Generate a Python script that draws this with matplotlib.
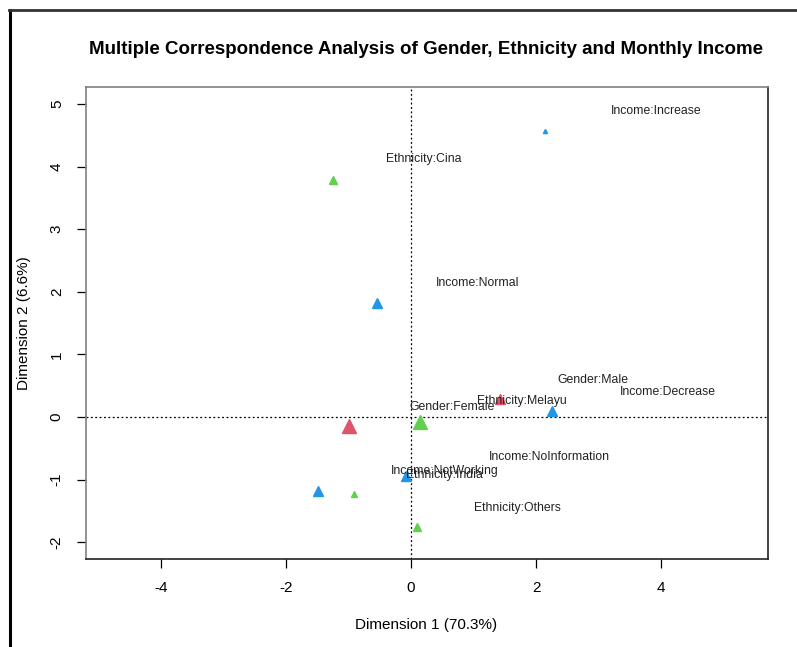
import matplotlib
matplotlib.use("Agg")
import matplotlib.pyplot as plt
from matplotlib.lines import Line2D

plt.rcParams['font.family'] = ['Liberation Sans', 'DejaVu Sans']

# category coordinates on the first two MCA dimensions
categories = ['Income:Increase', 'Ethnicity:Cina', 'Income:Normal', 'Gender:Male',
              'Income:Decrease', 'Ethnicity:Melayu', 'Gender:Female',
              'Income:NoInformation', 'Income:NotWorking', 'Ethnicity:India',
              'Ethnicity:Others']
dim1 = [2.14, -1.25, -0.54, 1.42, 2.26, 0.14, -0.99, -0.08, -1.49, -0.91, 0.10]
dim2 = [4.57, 3.79, 1.82, 0.29, 0.10, -0.08, -0.14, -0.94, -1.18, -1.23, -1.76]
variable = ['Income', 'Ethnicity', 'Income', 'Gender', 'Income', 'Ethnicity',
            'Gender', 'Income', 'Income', 'Ethnicity', 'Ethnicity']
# relative category weight (marker size)
weight = [3.0, 6.0, 7.2, 6.5, 6.5, 9.5, 10.0, 6.5, 6.5, 4.5, 5.5]
# where the labels were drawn
label_x = [3.92, 0.21, 1.07, 2.91, 4.11, 1.78, 0.66, 2.21, 0.54, 0.53, 1.71]
label_y = [4.89, 4.12, 2.14, 0.59, 0.40, 0.26, 0.16, -0.64, -0.86, -0.93, -1.45]

var_colors = {'Gender': '#DF536B', 'Ethnicity': '#61D04F', 'Income': '#2297E6'}

fig = plt.figure(figsize=(7.97, 6.47), dpi=100)
ax = fig.add_axes([0.108, 0.136, 0.8555, 0.7295])

ax.axhline(0, color='black', linestyle=(0, (1.5, 2)), lw=0.9, zorder=1)
ax.axvline(0, color='black', linestyle=(0, (1.5, 2)), lw=0.9, zorder=1)

for i, name in enumerate(categories):
    ax.plot(dim1[i], dim2[i], marker='^', markersize=weight[i],
            color=var_colors[variable[i]], linestyle='none', zorder=3)
    ax.text(label_x[i], label_y[i], name, fontsize=8.8, color='#222222',
            ha='center', va='center', zorder=4)

ax.set_xlim(-5.2, 5.71)
ax.set_ylim(-2.27, 5.27)
ax.set_xticks([-4, -2, 0, 2, 4])
ax.set_yticks([-2, -1, 0, 1, 2, 3, 4, 5])
ax.set_xticklabels(['-4', '-2', '0', '2', '4'])
ax.set_yticklabels(['-2', '-1', '0', '1', '2', '3', '4', '5'],
                   rotation=90, va='center')
ax.tick_params(direction='out', length=6.5, width=0.9, labelsize=11,
               color='black')
ax.tick_params(axis='x', pad=9)
ax.tick_params(axis='y', pad=9.5)

for side in ['left', 'top']:
    ax.spines[side].set_color('#808080')
for side in ['right', 'bottom']:
    ax.spines[side].set_color('#222222')
for s in ax.spines.values():
    s.set_linewidth(1.2)

fig.text(0.535, 0.034, 'Dimension 1 (70.3%)', fontsize=11, ha='center', va='center')
fig.text(0.03, 0.5, 'Dimension 2 (6.6%)', fontsize=11, ha='center', va='center',
         rotation=90)
fig.text(0.535, 0.924,
         'Multiple Correspondence Analysis of Gender, Ethnicity and Monthly Income',
         fontsize=13.5, fontweight='bold', ha='center', va='center')

# window frame from the screenshot
fig.add_artist(Line2D([0.0125, 0.0125], [0.0, 0.984], color='black', lw=2.2,
                      transform=fig.transFigure))
fig.add_artist(Line2D([0.0115, 1.0], [0.984, 0.984], color='#333333', lw=2.0,
                      transform=fig.transFigure))

fig.savefig('out.png', dpi=100)
